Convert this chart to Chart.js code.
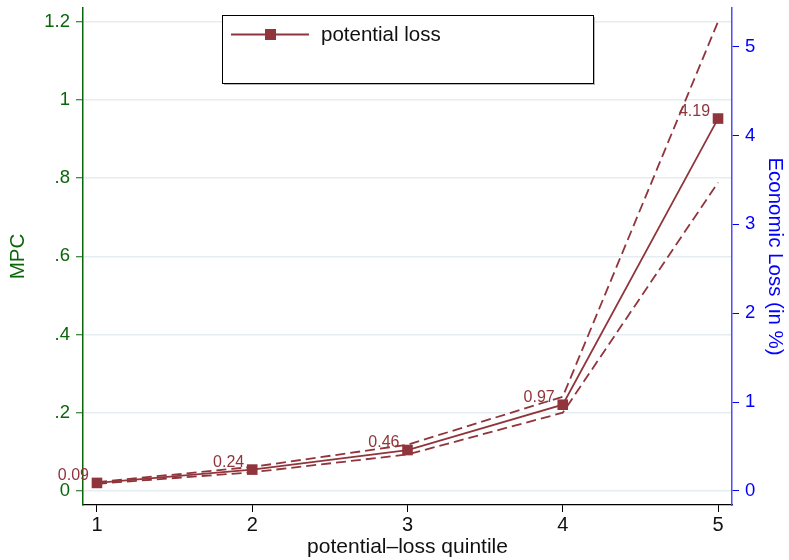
<!DOCTYPE html>
<html><head><meta charset="utf-8">
<script src="https://cdn.jsdelivr.net/npm/chart.js@4.4.1/dist/chart.umd.min.js"></script>
<style>html,body{margin:0;padding:0;background:#fff}#wrap{width:789px;height:560px}</style>
</head><body><div id="wrap"><canvas id="c"></canvas></div>
<script>
const quintiles = [1, 2, 3, 4, 5];
const econLoss = [0.09, 0.24, 0.46, 0.97, 4.19];
const upperBand = [0.10, 0.27, 0.52, 1.06, 5.28];
const lowerBand = [0.08, 0.21, 0.41, 0.88, 3.47];
const pointLabels = ['0.09', '0.24', '0.46', '0.97', '4.19'];
const mpcTicks = [0, 0.2, 0.4, 0.6, 0.8, 1, 1.2];
const mpcTickLabels = ['0', '.2', '.4', '.6', '.8', '1', '1.2'];
const lossTicks = [0, 1, 2, 3, 4, 5];
const xTicks = [1, 2, 3, 4, 5];
const seriesName = 'potential loss';

const FONT = "'Liberation Sans', Arial, Helvetica, sans-serif";
const CRAN = '#90353b';
const GREEN = '#0b650b';
const BLUE = '#0000ff';
const GRID = '#e6edf0';

const toPts = arr => quintiles.map((q, i) => ({x: q, y: arr[i]}));

const annot = {
  id: 'annot',
  afterDatasetsDraw(chart) {
    const ctx = chart.ctx;
    const meta = chart.getDatasetMeta(0);
    ctx.save();
    ctx.font = '16px ' + FONT;
    ctx.fillStyle = CRAN;
    ctx.textAlign = 'right';
    ctx.textBaseline = 'alphabetic';
    meta.data.forEach((pt, i) => {
      ctx.fillText(pointLabels[i], pt.x - 8, pt.y - 3);
    });
    ctx.restore();
  },
  afterDraw(chart) {
    const ctx = chart.ctx;
    ctx.save();
    const bx = 222, by = 15, bw = 371, bh = 68;
    ctx.fillStyle = '#b8b8b8';
    ctx.fillRect(bx + 2, by + 2, bw, bh);
    ctx.fillStyle = '#fff';
    ctx.fillRect(bx, by, bw, bh);
    ctx.strokeStyle = '#000';
    ctx.lineWidth = 1;
    ctx.strokeRect(bx + 0.5, by + 0.5, bw, bh);
    ctx.strokeStyle = CRAN;
    ctx.lineWidth = 1.8;
    ctx.beginPath();
    ctx.moveTo(231, 34.5); ctx.lineTo(309, 34.5);
    ctx.stroke();
    ctx.fillStyle = CRAN;
    ctx.fillRect(265, 29, 11, 11);
    ctx.fillStyle = '#111';
    ctx.font = '20.5px ' + FONT;
    ctx.textAlign = 'left';
    ctx.textBaseline = 'middle';
    ctx.fillText(seriesName, 321, 35);
    ctx.restore();
  }
};

new Chart(document.getElementById('c'), {
  type: 'line',
  data: {
    datasets: [
      {label: seriesName, data: toPts(econLoss), yAxisID: 'y2', borderColor: CRAN, backgroundColor: CRAN,
       borderWidth: 1.8, pointStyle: 'rect', pointRadius: 7.5, pointBorderWidth: 0, tension: 0, clip: false},
      {label: 'upper', data: toPts(upperBand), yAxisID: 'y2', borderColor: CRAN, borderWidth: 1.8,
       borderDash: [10, 5], pointRadius: 0, tension: 0, clip: false},
      {label: 'lower', data: toPts(lowerBand), yAxisID: 'y2', borderColor: CRAN, borderWidth: 1.8,
       borderDash: [10, 5], pointRadius: 0, tension: 0, clip: false}
    ]
  },
  options: {
    responsive: true, maintainAspectRatio: false, animation: false,
    layout: {padding: {top: 8, left: 0, right: 0, bottom: 0}},
    plugins: {legend: {display: false}, tooltip: {enabled: false}},
    scales: {
      x: {
        type: 'linear', position: 'bottom', min: 0.91, max: 5.09,
        afterBuildTicks: s => { s.ticks = xTicks.map(v => ({value: v})); },
        afterFit: s => { s.height = 55; s.paddingLeft = 0; s.paddingRight = 0; },
        ticks: {color: '#111', font: {family: FONT, size: 20}, padding: 1, maxRotation: 0,
                callback: v => String(v)},
        grid: {drawOnChartArea: false, tickLength: 7, tickColor: '#000', tickWidth: 1},
        border: {display: true, color: '#000', width: 1.2},
        title: {display: true, text: 'potential–loss quintile', color: '#111',
                font: {family: FONT, size: 21}, padding: {top: 0, bottom: 0}}
      },
      y: {
        type: 'linear', position: 'left', min: -0.036, max: 1.235,
        afterBuildTicks: s => { s.ticks = mpcTicks.map(v => ({value: v})); },
        afterFit: s => { s.width = 83; s.paddingTop = 0; s.paddingBottom = 0; },
        ticks: {color: GREEN, font: {family: FONT, size: 18.5}, padding: 6,
                callback: (v) => { const i = mpcTicks.findIndex(t => Math.abs(t - v) < 1e-9); return i >= 0 ? mpcTickLabels[i] : ''; }},
        grid: {drawOnChartArea: true, color: GRID, lineWidth: 1.5, tickLength: 7, tickColor: GREEN, tickWidth: 1},
        border: {display: true, color: GREEN, width: 1.5},
        title: {display: true, text: 'MPC', color: GREEN, font: {family: FONT, size: 20.5}, padding: {top: 6, bottom: 0}}
      },
      y2: {
        type: 'linear', position: 'right', min: -0.1584, max: 5.434,
        afterBuildTicks: s => { s.ticks = lossTicks.map(v => ({value: v})); },
        afterFit: s => { s.width = 57; s.paddingTop = 0; s.paddingBottom = 0; },
        ticks: {color: BLUE, font: {family: FONT, size: 18.5}, padding: 6, callback: v => String(v)},
        grid: {drawOnChartArea: false, tickLength: 7, tickColor: BLUE, tickWidth: 1},
        border: {display: true, color: '#4d4dff', width: 1.5},
        title: {display: true, text: 'Economic Loss (in %)', color: BLUE, font: {family: FONT, size: 20.5}, padding: {top: 2, bottom: 0}}
      }
    }
  },
  plugins: [annot]
});
</script>
</body></html>
